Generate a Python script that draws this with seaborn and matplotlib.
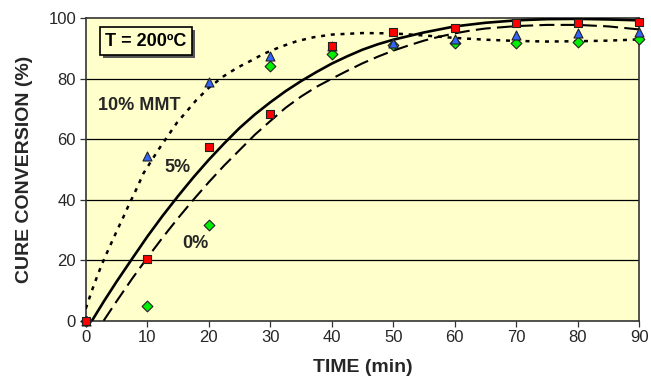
import matplotlib
matplotlib.use("Agg")
import matplotlib.pyplot as plt
import matplotlib.patheffects as pe
import seaborn as sns
import pandas as pd

# ---- data ----
time = [0, 10, 20, 30, 40, 50, 60, 70, 80, 90]
conv_0 = [0, 5, 31.5, 84.1, 88.2, 91.0, 91.8, 91.8, 92.1, 93.2]
conv_5 = [0, 20.4, 57.5, 68.3, 90.7, 95.4, 96.8, 98.5, 98.5, 98.7]
conv_10 = [0, 54.5, 79.0, 87.4, 90.7, 91.8, 93.2, 94.3, 95.1, 95.4]

# trend curves as drawn in the reference
fit10_t = [0, 1, 2, 3, 4, 5, 6, 7, 8, 9.4, 11.8, 14.8, 18, 20, 22.4, 24.6, 26.7,
           28.9, 31.6, 34.3, 37, 40, 45, 50, 55, 60, 65, 70, 75, 80, 85, 90]
fit10_y = [4, 10, 15.5, 20.5, 25, 29.5, 33.8, 38.3, 42.5, 48.8, 56.5, 65.4, 73,
           77, 80.8, 83.6, 85.8, 88.2, 90.5, 92.4, 93.7, 94.6, 95.1, 95.0, 94.3,
           93.5, 92.9, 92.5, 92.3, 92.4, 92.6, 93.0]
fit5_t = [1, 3, 5, 7.5, 10, 12.5, 15, 17.5, 20, 22.5, 25, 27.5, 30, 32.5, 35,
          37.5, 40, 42.5, 45, 47.5, 50, 55, 60, 65, 70, 75, 80, 85, 90]
fit5_y = [0, 6.6, 12.9, 20.4, 27.8, 34.7, 41.2, 47.4, 53.2, 58.6, 63.7, 68.2,
          72.2, 75.9, 79.2, 82.2, 85.0, 87.4, 89.6, 91.4, 92.9, 95.3, 97.3, 98.5,
          99.3, 99.7, 99.8, 99.6, 99.3]
fit0_t = [2.9, 5, 7.5, 10, 12.5, 15, 17.5, 20, 22.5, 25, 27.5, 30, 32.5, 35,
          37.5, 40, 42.5, 45, 47.5, 50, 52.5, 55, 57.5, 60, 62.5, 65, 70, 75,
          80, 85, 90]
fit0_y = [0, 6.4, 13.8, 20.8, 27.5, 33.9, 40.0, 45.8, 51.3, 56.4, 61.5, 66.0,
          70.4, 74.1, 77.3, 80.0, 82.6, 85.1, 87.3, 89.3, 91.0, 92.6, 93.9, 95.0,
          95.9, 96.6, 97.4, 97.8, 97.8, 97.3, 96.3]

x_ticks = [0, 10, 20, 30, 40, 50, 60, 70, 80, 90]
y_ticks = [0, 20, 40, 60, 80, 100]
x_label = "TIME (min)"
y_label = "CURE CONVERSION (%)"
box_text = "T = 200ºC"
series_labels = ["10% MMT", "5%", "0%"]

# ---- style ----
sns.set_style("white")
plt.rcParams["font.family"] = ["Liberation Sans", "DejaVu Sans"]

fig = plt.figure(figsize=(6.51, 3.80), dpi=100)
ax = fig.add_axes([0.1318, 0.156, 0.850, 0.796])
ax.set_facecolor("#FFFFCC")

# gridlines
for yv in y_ticks[1:-1]:
    ax.axhline(yv, color="black", lw=0.9, zorder=1)

# curves
sns.lineplot(x=fit10_t, y=fit10_y, ax=ax, color="black", lw=1.8,
             linestyle=(0, (1.6, 2.3)), sort=False, zorder=3)
sns.lineplot(x=fit5_t, y=fit5_y, ax=ax, color="black", lw=1.9,
             linestyle="-", sort=False, zorder=3)
sns.lineplot(x=fit0_t, y=fit0_y, ax=ax, color="black", lw=1.5,
             linestyle=(0, (7.2, 3.0)), sort=False, zorder=3)

# data points
df = pd.DataFrame({"time": time, "c0": conv_0, "c5": conv_5, "c10": conv_10})
sns.scatterplot(data=df, x="time", y="c0", ax=ax, marker="D", s=30,
                color="#00EE00", edgecolor="#222222", linewidth=0.8,
                zorder=4, clip_on=False)
sns.scatterplot(data=df, x="time", y="c10", ax=ax, marker="^", s=42,
                color="#3366FF", edgecolor="#222222", linewidth=0.8,
                zorder=5, clip_on=False)
sns.scatterplot(data=df, x="time", y="c5", ax=ax, marker="s", s=32,
                color="#FF0000", edgecolor="#222222", linewidth=0.8,
                zorder=6, clip_on=False)

ax.set_xlim(0, 90)
ax.set_ylim(0, 100)
ax.set_xticks(x_ticks)
ax.set_yticks(y_ticks)
ax.tick_params(axis="both", direction="out", length=4, width=0.9,
               color="#333333", labelsize=12, pad=3, bottom=True, left=True)
for s in ax.spines.values():
    s.set_color("#333333")
    s.set_linewidth(1.2)
    s.set_visible(True)

ax.set_xlabel(x_label, fontsize=14, fontweight="bold", labelpad=10)
ax.set_ylabel(y_label, fontsize=14, fontweight="bold", labelpad=11)

# series labels
ax.text(8.65, 71.3, series_labels[0], fontsize=13, fontweight="bold",
        ha="center", va="center", zorder=7)
ax.text(14.9, 50.5, series_labels[1], fontsize=13, fontweight="bold",
        ha="center", va="center", zorder=7)
ax.text(17.8, 25.4, series_labels[2], fontsize=13, fontweight="bold",
        ha="center", va="center", zorder=7)

# boxed temperature label with shadow
t = ax.text(9.8, 92.4, box_text, fontsize=13, fontweight="bold", ha="center",
            va="center", color="black", zorder=8,
            bbox=dict(boxstyle="square,pad=0.3", fc="#FFFFCC", ec="black", lw=1.2))
t.get_bbox_patch().set_path_effects([
    pe.SimplePatchShadow(offset=(2.2, -2.2), shadow_rgbFace="#555555", alpha=1.0),
    pe.Normal(),
])

fig.savefig("out.png", dpi=100, facecolor="white")
